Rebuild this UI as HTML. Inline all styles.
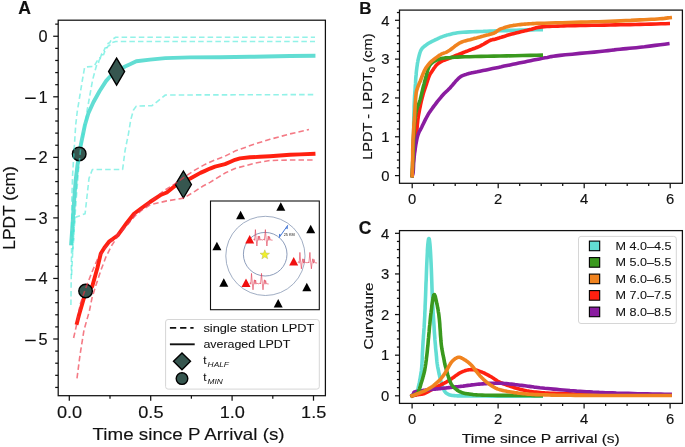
<!DOCTYPE html>
<html><head><meta charset="utf-8"><style>
html,body{margin:0;padding:0;background:#fff;}
svg{display:block;font-family:"Liberation Sans", sans-serif;-webkit-font-smoothing:antialiased;will-change:transform;}
text{fill:#111;stroke:#111;stroke-width:0.15px;}
</style></head><body>
<svg width="685" height="447" viewBox="0 0 685 447">
<rect width="685" height="447" fill="#fff"/>
<clipPath id="clipA"><rect x="58.2" y="20.2" width="267.2" height="375.5"/></clipPath>
<clipPath id="clipB"><rect x="399.9" y="10.2" width="282.4" height="173.1"/></clipPath>
<clipPath id="clipC"><rect x="399.5" y="231.1" width="282.9" height="172.3"/></clipPath>
<g clip-path="url(#clipA)">
<polyline points="71.2,243.5 72.5,225.0 73.8,205.0 75.7,180.0 77.5,165.0 79.2,153.9 80.8,145.0 83.9,130.0 85.0,124.7 88.3,113.5 93.4,102.3 99.5,91.2 106.0,81.1 109.4,77.3 117.0,71.0 125.1,66.5 130.0,64.3 136.3,61.3 150.0,59.6 165.4,58.1 190.0,57.4 220.0,57.2 250.0,56.8 290.0,56.0 313.5,55.8" fill="none" stroke="#62DDD3" stroke-width="3.9" stroke-linecap="square" stroke-linejoin="round"/>
<polyline points="77.0,322.9 79.0,315.0 85.7,292.0 92.2,286.5 97.5,267.5 100.8,253.5 104.4,247.8 109.4,241.3 113.0,238.8 117.9,235.2 126.9,222.7 134.0,213.7 141.0,208.5 150.0,202.0 161.2,194.7 166.8,192.5 175.8,185.2 190.3,178.5 200.4,172.9 205.0,170.9 210.0,168.6 215.0,166.6 220.0,165.4 225.0,164.1 230.0,162.0 235.0,159.8 240.0,158.4 250.0,157.3 260.0,156.8 270.0,156.2 290.0,154.8 300.0,154.4 313.5,153.8" fill="none" stroke="#FF2010" stroke-width="3.9" stroke-linecap="square" stroke-linejoin="round"/>
</g>
<polygon points="116.6,58.099999999999994 124.6,71.6 116.6,85.1 108.6,71.6" fill="#36564F" stroke="#000" stroke-width="1.4"/>
<polygon points="183.4,171.0 191.4,184.5 183.4,198.0 175.4,184.5" fill="#36564F" stroke="#000" stroke-width="1.4"/>
<circle cx="79.2" cy="153.9" r="6.8" fill="#36564F" stroke="#000" stroke-width="1.4"/>
<circle cx="85.6" cy="291.0" r="6.8" fill="#36564F" stroke="#000" stroke-width="1.4"/>
<g clip-path="url(#clipA)">
<polyline points="70.9,305.0 71.2,280.0 71.6,245.0 71.8,200.0 72.6,175.0 74.1,150.0 75.7,125.0 77.2,112.0 82.4,80.0 84.6,67.4 86.7,66.9 94.2,66.3 95.3,64.2 97.5,60.4 99.1,57.8 100.5,57.4 101.8,53.5 103.2,52.9 105.0,48.1 106.6,47.5 108.2,43.3 109.8,42.7 111.4,39.5 113.0,39.0 115.7,37.3 315.0,37.3" fill="none" stroke="#38E8D6" stroke-width="1.6" stroke-dasharray="5.5,3.1" stroke-opacity="0.55" stroke-linecap="butt" stroke-linejoin="round"/>
<polyline points="71.6,275.0 72.2,262.0 73.0,245.0 76.5,195.0 78.5,170.0 80.5,150.0 83.0,135.0 85.5,122.0 87.2,110.0 92.6,80.0 94.8,71.7 96.9,64.2 98.2,63.8 99.1,60.4 102.3,55.1 103.6,54.6 105.0,50.8 108.2,46.0 109.5,45.6 111.4,42.7 115.7,41.5 315.0,41.5" fill="none" stroke="#38E8D6" stroke-width="1.6" stroke-dasharray="5.5,3.1" stroke-opacity="0.55" stroke-linecap="butt" stroke-linejoin="round"/>
<polyline points="72.6,252.0 73.6,240.0 74.9,217.6 85.1,213.7 89.0,178.4 92.4,169.5 122.6,169.5 125.1,150.3 128.5,133.6 130.7,120.0 133.5,110.0 136.3,106.1 152.0,105.7 165.4,95.0 315.0,94.6" fill="none" stroke="#38E8D6" stroke-width="1.6" stroke-dasharray="5.5,3.1" stroke-opacity="0.55" stroke-linecap="butt" stroke-linejoin="round"/>
<polyline points="73.6,338.0 77.0,323.0 80.0,305.0 85.0,290.0 92.0,272.0 98.0,258.0 105.0,248.0 112.0,240.0 120.0,232.0 128.0,224.0 135.0,214.0 150.0,202.5 162.7,191.5 174.6,184.1 184.7,176.8 194.8,170.1 205.0,164.4 215.0,160.0 225.0,156.2 235.0,151.1 255.0,143.9 270.0,139.3 290.0,133.9 296.0,132.6 309.0,129.5" fill="none" stroke="#EE3344" stroke-width="1.6" stroke-dasharray="5.5,3.1" stroke-opacity="0.65" stroke-linecap="butt" stroke-linejoin="round"/>
<polyline points="77.0,378.4 80.0,355.0 84.0,330.0 89.4,311.0 92.0,298.0 96.0,285.0 101.0,270.0 106.0,256.8 112.0,245.0 118.0,236.0 127.0,225.0 135.0,216.0 142.0,210.0 150.2,204.8 166.8,200.9 183.6,198.1 194.8,191.4 202.6,186.3 210.0,182.4 225.0,173.1 235.0,168.5 255.0,163.1 270.0,160.5 290.0,160.0 314.0,160.0" fill="none" stroke="#EE3344" stroke-width="1.6" stroke-dasharray="5.5,3.1" stroke-opacity="0.65" stroke-linecap="butt" stroke-linejoin="round"/>
</g>
<rect x="58.2" y="20.2" width="267.2" height="375.5" fill="none" stroke="#111" stroke-width="1.25"/>
<line x1="53.20" y1="36.25" x2="58.20" y2="36.25" stroke="#111" stroke-width="1.25"/>
<text x="47.60" y="42.15" font-size="16.3" text-anchor="end" font-weight="normal" font-style="normal">0</text>
<line x1="53.20" y1="96.80" x2="58.20" y2="96.80" stroke="#111" stroke-width="1.25"/>
<text x="47.60" y="102.70" font-size="16.3" text-anchor="end" font-weight="normal" font-style="normal">1</text>
<rect x="25.2" y="97.50" width="10.5" height="1.5" fill="#111"/>
<line x1="53.20" y1="157.35" x2="58.20" y2="157.35" stroke="#111" stroke-width="1.25"/>
<text x="47.60" y="163.25" font-size="16.3" text-anchor="end" font-weight="normal" font-style="normal">2</text>
<rect x="25.2" y="158.05" width="10.5" height="1.5" fill="#111"/>
<line x1="53.20" y1="217.90" x2="58.20" y2="217.90" stroke="#111" stroke-width="1.25"/>
<text x="47.60" y="223.80" font-size="16.3" text-anchor="end" font-weight="normal" font-style="normal">3</text>
<rect x="25.2" y="218.60" width="10.5" height="1.5" fill="#111"/>
<line x1="53.20" y1="278.45" x2="58.20" y2="278.45" stroke="#111" stroke-width="1.25"/>
<text x="47.60" y="284.35" font-size="16.3" text-anchor="end" font-weight="normal" font-style="normal">4</text>
<rect x="25.2" y="279.15" width="10.5" height="1.5" fill="#111"/>
<line x1="53.20" y1="339.00" x2="58.20" y2="339.00" stroke="#111" stroke-width="1.25"/>
<text x="47.60" y="344.90" font-size="16.3" text-anchor="end" font-weight="normal" font-style="normal">5</text>
<rect x="25.2" y="339.70" width="10.5" height="1.5" fill="#111"/>
<line x1="55.20" y1="387.44" x2="58.20" y2="387.44" stroke="#111" stroke-width="1.25"/>
<line x1="55.20" y1="375.33" x2="58.20" y2="375.33" stroke="#111" stroke-width="1.25"/>
<line x1="55.20" y1="363.22" x2="58.20" y2="363.22" stroke="#111" stroke-width="1.25"/>
<line x1="55.20" y1="351.11" x2="58.20" y2="351.11" stroke="#111" stroke-width="1.25"/>
<line x1="55.20" y1="326.89" x2="58.20" y2="326.89" stroke="#111" stroke-width="1.25"/>
<line x1="55.20" y1="314.78" x2="58.20" y2="314.78" stroke="#111" stroke-width="1.25"/>
<line x1="55.20" y1="302.67" x2="58.20" y2="302.67" stroke="#111" stroke-width="1.25"/>
<line x1="55.20" y1="290.56" x2="58.20" y2="290.56" stroke="#111" stroke-width="1.25"/>
<line x1="55.20" y1="266.34" x2="58.20" y2="266.34" stroke="#111" stroke-width="1.25"/>
<line x1="55.20" y1="254.23" x2="58.20" y2="254.23" stroke="#111" stroke-width="1.25"/>
<line x1="55.20" y1="242.12" x2="58.20" y2="242.12" stroke="#111" stroke-width="1.25"/>
<line x1="55.20" y1="230.01" x2="58.20" y2="230.01" stroke="#111" stroke-width="1.25"/>
<line x1="55.20" y1="205.79" x2="58.20" y2="205.79" stroke="#111" stroke-width="1.25"/>
<line x1="55.20" y1="193.68" x2="58.20" y2="193.68" stroke="#111" stroke-width="1.25"/>
<line x1="55.20" y1="181.57" x2="58.20" y2="181.57" stroke="#111" stroke-width="1.25"/>
<line x1="55.20" y1="169.46" x2="58.20" y2="169.46" stroke="#111" stroke-width="1.25"/>
<line x1="55.20" y1="145.24" x2="58.20" y2="145.24" stroke="#111" stroke-width="1.25"/>
<line x1="55.20" y1="133.13" x2="58.20" y2="133.13" stroke="#111" stroke-width="1.25"/>
<line x1="55.20" y1="121.02" x2="58.20" y2="121.02" stroke="#111" stroke-width="1.25"/>
<line x1="55.20" y1="108.91" x2="58.20" y2="108.91" stroke="#111" stroke-width="1.25"/>
<line x1="55.20" y1="84.69" x2="58.20" y2="84.69" stroke="#111" stroke-width="1.25"/>
<line x1="55.20" y1="72.58" x2="58.20" y2="72.58" stroke="#111" stroke-width="1.25"/>
<line x1="55.20" y1="60.47" x2="58.20" y2="60.47" stroke="#111" stroke-width="1.25"/>
<line x1="55.20" y1="48.36" x2="58.20" y2="48.36" stroke="#111" stroke-width="1.25"/>
<line x1="55.20" y1="24.14" x2="58.20" y2="24.14" stroke="#111" stroke-width="1.25"/>
<line x1="69.30" y1="395.70" x2="69.30" y2="400.70" stroke="#111" stroke-width="1.25"/>
<text x="69.50" y="418.20" font-size="16.3" text-anchor="middle" font-weight="normal" font-style="normal" textLength="25.2" lengthAdjust="spacingAndGlyphs">0.0</text>
<line x1="150.70" y1="395.70" x2="150.70" y2="400.70" stroke="#111" stroke-width="1.25"/>
<text x="150.90" y="418.20" font-size="16.3" text-anchor="middle" font-weight="normal" font-style="normal" textLength="25.2" lengthAdjust="spacingAndGlyphs">0.5</text>
<line x1="232.10" y1="395.70" x2="232.10" y2="400.70" stroke="#111" stroke-width="1.25"/>
<text x="232.30" y="418.20" font-size="16.3" text-anchor="middle" font-weight="normal" font-style="normal" textLength="25.2" lengthAdjust="spacingAndGlyphs">1.0</text>
<line x1="313.50" y1="395.70" x2="313.50" y2="400.70" stroke="#111" stroke-width="1.25"/>
<text x="313.70" y="418.20" font-size="16.3" text-anchor="middle" font-weight="normal" font-style="normal" textLength="25.2" lengthAdjust="spacingAndGlyphs">1.5</text>
<line x1="110.00" y1="395.70" x2="110.00" y2="398.70" stroke="#111" stroke-width="1.25"/>
<line x1="191.40" y1="395.70" x2="191.40" y2="398.70" stroke="#111" stroke-width="1.25"/>
<line x1="272.80" y1="395.70" x2="272.80" y2="398.70" stroke="#111" stroke-width="1.25"/>
<text x="18.30" y="14.20" font-size="17.6" text-anchor="start" font-weight="bold" font-style="normal">A</text>
<text transform="translate(14.6,249.7) rotate(-90)" font-size="16.5" textLength="83.5" lengthAdjust="spacingAndGlyphs">LPDT (cm)</text>
<text x="92.60" y="440.20" font-size="16.5" text-anchor="start" font-weight="normal" font-style="normal" textLength="192" lengthAdjust="spacingAndGlyphs">Time since P Arrival (s)</text>
<rect x="165.6" y="319.5" width="153.7" height="69.6" rx="2.5" fill="#fff" fill-opacity="0.8" stroke="#d6d6d6" stroke-width="1"/>
<line x1="169.9" y1="327.9" x2="193.6" y2="327.9" stroke="#111" stroke-width="1.9" stroke-dasharray="6.3,3.9"/>
<line x1="169.90" y1="344.30" x2="194.70" y2="344.30" stroke="#111" stroke-width="1.9"/>
<text x="203.40" y="332.00" font-size="11.6" text-anchor="start" font-weight="normal" font-style="normal" textLength="111" lengthAdjust="spacingAndGlyphs" style="stroke-width:0.08px">single station LPDT</text>
<text x="203.40" y="348.40" font-size="11.6" text-anchor="start" font-weight="normal" font-style="normal" textLength="87" lengthAdjust="spacingAndGlyphs" style="stroke-width:0.08px">averaged LPDT</text>
<polygon points="182,352.9 190.5,361.3 182,369.7 173.5,361.3" fill="#36564F" stroke="#000" stroke-width="1.4"/>
<circle cx="182" cy="378.6" r="5.8" fill="#36564F" stroke="#000" stroke-width="1.4"/>
<text x="203.30" y="364.40" font-size="11.6" text-anchor="start" font-weight="normal" font-style="normal" style="stroke-width:0.08px">t</text>
<text x="207.60" y="366.60" font-size="7.8" text-anchor="start" font-weight="normal" font-style="italic" textLength="21.4" lengthAdjust="spacingAndGlyphs" style="stroke:none">HALF</text>
<text x="203.30" y="381.30" font-size="11.6" text-anchor="start" font-weight="normal" font-style="normal" style="stroke-width:0.08px">t</text>
<text x="207.60" y="383.60" font-size="7.8" text-anchor="start" font-weight="normal" font-style="italic" textLength="15.2" lengthAdjust="spacingAndGlyphs" style="stroke:none">MIN</text>
<rect x="210.5" y="201" width="108.8" height="108.7" fill="#fff" stroke="#111" stroke-width="1.1"/>
<circle cx="265.4" cy="255.9" r="39.6" fill="none" stroke="#8898b4" stroke-width="0.8"/>
<circle cx="265.2" cy="254.2" r="21.8" fill="none" stroke="#7084aa" stroke-width="0.8"/>
<polygon points="240.6,210.85 245.1,219.35 236.1,219.35" fill="#000"/>
<polygon points="280.8,202.15 285.3,210.65 276.3,210.65" fill="#000"/>
<polygon points="310.7,224.65 315.2,233.15 306.2,233.15" fill="#000"/>
<polygon points="216.9,241.65 221.4,250.15 212.4,250.15" fill="#000"/>
<polygon points="223.8,278.15 228.3,286.65 219.3,286.65" fill="#000"/>
<polygon points="306.8,282.75 311.3,291.25 302.3,291.25" fill="#000"/>
<polygon points="278.2,298.95 282.7,307.45 273.7,307.45" fill="#000"/>
<polygon points="249.7,235.10000000000002 254.2,243.5 245.2,243.5" fill="#F01010"/>
<polygon points="293.7,257.1 298.2,265.5 289.2,265.5" fill="#F01010"/>
<polygon points="246.0,278.6 250.5,287.0 241.5,287.0" fill="#F01010"/>
<polyline points="253.4,239.6 254.2,238.8 254.7,240.4 255.4,229.6 256.2,239.6 256.9,246.0 257.6,239.6 258.3,236.0 258.9,240.4 259.5,236.2 260.2,240.0 261.0,239.6 262.7,240.0 263.8,239.2 264.4,240.2 265.4,229.6 266.2,239.6 266.9,246.0 267.6,239.6 268.3,236.0 268.9,240.4 269.5,236.6 270.2,239.9 272.6,240.2" fill="none" stroke="#E03850" stroke-width="0.75" stroke-opacity="0.8" stroke-linecap="butt" stroke-linejoin="miter"/>
<polyline points="297.9,262.4 298.7,261.6 299.2,263.2 299.9,252.4 300.7,262.4 301.4,268.8 302.1,262.4 302.8,258.8 303.4,263.2 304.0,259.0 304.7,262.8 305.5,262.4 307.2,262.8 308.3,262.0 308.9,263.0 309.9,252.4 310.7,262.4 311.4,268.8 312.1,262.4 312.8,258.8 313.4,263.2 314.0,259.4 314.7,262.7 317.1,263.0" fill="none" stroke="#E03850" stroke-width="0.75" stroke-opacity="0.8" stroke-linecap="butt" stroke-linejoin="miter"/>
<polyline points="249.5,283.4 250.3,282.6 250.8,284.2 251.5,273.4 252.3,283.4 253.0,289.8 253.7,283.4 254.4,279.8 255.0,284.2 255.6,280.0 256.3,283.8 257.1,283.4 258.8,283.8 259.9,283.0 260.5,284.0 261.5,273.4 262.3,283.4 263.0,289.8 263.7,283.4 264.4,279.8 265.0,284.2 265.6,280.4 266.3,283.7 268.7,284.0" fill="none" stroke="#E03850" stroke-width="0.75" stroke-opacity="0.8" stroke-linecap="butt" stroke-linejoin="miter"/>
<polygon points="264.80,249.80 266.03,253.10 269.56,253.25 266.80,255.45 267.74,258.85 264.80,256.90 261.86,258.85 262.80,255.45 260.04,253.25 263.57,253.10" fill="#F0F028" stroke="#B8B860" stroke-width="0.5"/>
<line x1="279" y1="237.8" x2="287.8" y2="225.2" stroke="#3068D0" stroke-width="0.9"/>
<polygon points="287.8,225.2 286.0,228.3 287.6,229.2" fill="#3068D0"/>
<polygon points="279,237.8 280.8,234.7 279.2,233.8" fill="#3068D0"/>
<text x="283.7" y="235.9" font-size="4.4" fill="#333" style="stroke:none" textLength="11.0" lengthAdjust="spacingAndGlyphs">25 KM</text>
<g clip-path="url(#clipB)">
<polyline points="412.2,175.6 412.3,174.0 412.4,171.7 412.5,169.0 412.6,166.1 412.7,163.0 412.8,160.0 412.9,157.0 413.0,153.8 413.1,150.6 413.2,147.2 413.3,143.7 413.4,140.0 413.5,136.0 413.6,131.7 413.7,127.2 413.7,122.8 413.8,118.6 413.9,115.0 414.0,111.9 414.1,109.1 414.1,106.7 414.2,104.4 414.3,102.2 414.4,100.0 414.5,97.8 414.6,95.8 414.8,93.8 414.9,91.9 415.1,90.0 415.2,88.0 415.3,86.0 415.5,83.9 415.6,81.9 415.7,79.9 415.8,77.9 416.0,76.0 416.2,74.2 416.3,72.4 416.5,70.6 416.7,69.0 416.9,67.4 417.1,66.0 417.3,64.8 417.4,63.7 417.6,62.7 417.8,61.8 417.9,60.9 418.1,60.0 418.3,59.1 418.5,58.2 418.7,57.4 418.9,56.6 419.1,55.8 419.3,55.0 419.5,54.3 419.7,53.6 419.9,52.9 420.1,52.3 420.3,51.6 420.6,51.0 420.9,50.4 421.2,49.8 421.6,49.2 422.0,48.6 422.5,48.1 423.0,47.5 423.6,46.9 424.4,46.3 425.2,45.7 426.0,45.1 426.8,44.5 427.5,44.0 428.1,43.6 428.7,43.2 429.2,42.9 429.8,42.6 430.3,42.3 431.0,42.0 431.7,41.6 432.5,41.2 433.3,40.8 434.2,40.4 435.1,39.9 436.0,39.5 436.9,39.1 437.9,38.6 438.9,38.1 439.9,37.7 441.0,37.2 442.0,36.8 443.0,36.4 443.9,36.1 444.8,35.8 445.8,35.5 446.9,35.1 448.3,34.8 449.8,34.4 451.5,34.0 453.3,33.6 455.3,33.2 457.5,32.8 460.0,32.5 462.9,32.3 466.1,32.1 469.5,31.9 473.0,31.8 476.6,31.6 480.0,31.5 483.3,31.4 486.7,31.2 490.0,31.1 493.3,31.0 496.7,30.9 500.0,30.8 503.3,30.7 506.6,30.6 509.9,30.4 513.2,30.3 516.6,30.2 520.0,30.1 523.7,30.0 527.8,29.9 531.9,29.9 535.7,29.8 538.9,29.7 541.2,29.7" fill="none" stroke="#62DDD3" stroke-width="3.6" stroke-linecap="square" stroke-linejoin="round"/>
<polyline points="412.2,175.6 412.3,173.9 412.5,171.5 412.7,168.7 413.0,165.7 413.2,162.7 413.5,160.0 413.8,157.4 414.1,154.8 414.3,152.2 414.6,149.6 414.9,147.2 415.2,145.0 415.4,143.1 415.7,141.5 415.9,140.0 416.1,138.5 416.3,136.9 416.5,135.0 416.7,132.7 416.9,130.2 417.1,127.5 417.3,124.8 417.6,122.3 417.8,120.0 418.1,118.0 418.3,116.3 418.6,114.7 418.9,113.1 419.2,111.6 419.5,110.0 419.8,108.3 420.2,106.6 420.5,104.9 420.9,103.2 421.2,101.6 421.6,100.0 422.0,98.6 422.3,97.2 422.7,95.9 423.0,94.6 423.4,93.3 423.8,92.0 424.2,90.7 424.7,89.3 425.1,88.0 425.6,86.7 426.0,85.3 426.5,84.0 426.9,82.6 427.4,81.2 427.8,79.8 428.3,78.5 428.7,77.2 429.2,76.0 429.7,74.9 430.2,74.0 430.7,73.1 431.3,72.3 431.9,71.4 432.5,70.5 433.2,69.5 433.8,68.5 434.6,67.5 435.3,66.5 436.0,65.6 436.8,64.8 437.5,64.1 438.3,63.5 439.0,62.9 439.8,62.4 440.6,61.9 441.5,61.4 442.4,60.9 443.3,60.6 444.3,60.2 445.4,59.8 446.6,59.4 448.0,58.8 449.7,58.1 451.7,57.3 453.8,56.4 455.9,55.5 458.1,54.7 460.0,53.9 461.8,53.2 463.5,52.5 465.1,51.9 466.7,51.3 468.4,50.6 470.0,50.0 471.7,49.4 473.3,48.8 475.0,48.2 476.7,47.5 478.3,46.8 480.0,46.1 481.7,45.2 483.5,44.2 485.3,43.1 487.0,42.1 488.6,41.2 490.0,40.5 491.1,40.0 492.0,39.8 492.8,39.6 493.5,39.5 494.2,39.4 495.0,39.2 495.8,39.0 496.5,38.7 497.2,38.5 498.0,38.2 498.9,38.0 500.0,37.6 501.4,37.2 503.0,36.7 504.7,36.2 506.5,35.6 508.3,35.1 510.0,34.6 511.7,34.1 513.3,33.7 515.0,33.3 516.7,32.8 518.3,32.4 520.0,32.0 521.7,31.6 523.3,31.2 525.0,30.8 526.7,30.4 528.3,30.0 530.0,29.6 531.6,29.2 533.1,28.7 534.7,28.3 536.3,27.8 538.0,27.4 540.0,27.1 542.2,26.9 544.4,26.7 546.9,26.5 549.4,26.4 552.2,26.3 555.0,26.2 557.9,26.1 560.7,26.0 563.8,25.9 567.0,25.8 570.7,25.7 575.0,25.6 580.0,25.5 585.7,25.4 591.9,25.3 598.1,25.2 604.3,25.1 610.0,25.0 615.3,24.9 620.4,24.8 625.4,24.7 630.3,24.6 635.2,24.5 640.0,24.4 645.1,24.3 650.6,24.1 656.0,24.0 661.0,23.8 665.2,23.7 668.2,23.6" fill="none" stroke="#FF2010" stroke-width="3.6" stroke-linecap="square" stroke-linejoin="round"/>
<polyline points="412.2,175.6 412.3,175.3 412.5,175.0 412.7,174.7 412.8,174.1 413.0,173.2 413.2,172.0 413.3,170.3 413.4,168.3 413.5,165.9 413.6,163.4 413.8,160.8 414.0,158.3 414.3,155.7 414.6,153.0 415.0,150.2 415.4,147.4 415.8,144.8 416.2,142.6 416.6,140.7 416.9,139.0 417.2,137.6 417.6,136.3 418.0,135.0 418.4,133.7 418.9,132.5 419.4,131.5 419.9,130.5 420.5,129.5 421.1,128.4 421.8,127.0 422.6,125.3 423.5,123.4 424.5,121.4 425.5,119.4 426.5,117.5 427.4,115.8 428.2,114.4 428.9,113.2 429.6,112.1 430.4,111.1 431.1,110.0 432.0,108.8 433.0,107.4 434.1,105.9 435.3,104.4 436.4,102.9 437.5,101.4 438.6,100.1 439.6,98.9 440.5,97.8 441.3,96.8 442.2,95.8 443.1,94.8 444.0,93.8 445.0,92.8 445.9,91.9 446.9,91.0 447.9,90.1 448.9,89.1 450.0,88.0 451.1,86.7 452.3,85.3 453.6,83.8 454.8,82.4 455.9,81.0 457.0,79.9 457.9,79.0 458.7,78.2 459.4,77.6 460.2,77.0 461.0,76.4 462.0,75.9 463.2,75.4 464.6,74.8 466.0,74.4 467.4,73.9 468.8,73.5 470.0,73.2 470.9,73.0 471.4,72.8 471.9,72.8 472.5,72.7 473.5,72.5 475.0,72.2 477.2,71.8 479.9,71.2 483.0,70.6 486.3,69.9 489.5,69.2 492.6,68.6 495.5,68.0 498.4,67.4 501.3,66.8 504.2,66.1 507.1,65.5 510.0,64.9 512.9,64.3 515.9,63.7 518.8,63.1 521.7,62.5 524.7,61.9 527.6,61.3 530.6,60.7 533.5,60.1 536.5,59.5 539.5,58.9 542.3,58.3 545.1,57.8 547.4,57.4 549.3,57.0 551.1,56.6 553.3,56.3 556.1,55.9 560.0,55.4 565.4,54.8 572.2,54.2 579.7,53.4 587.2,52.7 594.2,52.1 600.0,51.5 604.5,51.0 608.1,50.6 611.2,50.2 614.1,49.9 616.9,49.5 620.0,49.2 623.2,48.9 626.4,48.6 629.5,48.3 632.8,48.0 636.2,47.7 640.0,47.3 644.5,46.8 649.7,46.1 655.1,45.4 660.3,44.8 664.7,44.2 667.8,43.8" fill="none" stroke="#8A1CA0" stroke-width="3.6" stroke-linecap="square" stroke-linejoin="round"/>
<polyline points="412.2,175.6 412.2,174.5 412.3,173.0 412.4,171.2 412.4,169.3 412.5,167.1 412.6,165.0 412.7,162.8 412.8,160.5 412.9,158.1 413.0,155.5 413.1,152.8 413.2,150.0 413.3,146.9 413.4,143.5 413.5,140.0 413.7,136.5 413.8,133.1 414.0,130.0 414.2,127.1 414.4,124.4 414.7,121.8 414.9,119.3 415.2,117.0 415.5,115.0 415.8,113.2 416.1,111.8 416.4,110.5 416.8,109.3 417.1,108.2 417.5,107.0 417.9,105.8 418.3,104.8 418.7,103.8 419.2,102.7 419.6,101.4 420.1,100.0 420.6,98.3 421.0,96.4 421.5,94.3 422.0,92.2 422.5,90.1 423.0,88.0 423.5,86.0 424.1,83.9 424.6,81.8 425.2,79.7 425.7,77.8 426.2,76.0 426.6,74.3 427.1,72.7 427.4,71.2 427.8,69.8 428.2,68.6 428.7,67.4 429.2,66.4 429.7,65.5 430.3,64.7 430.8,64.0 431.4,63.4 432.1,62.8 432.8,62.2 433.6,61.7 434.4,61.3 435.2,60.8 436.0,60.5 436.8,60.1 437.6,59.8 438.3,59.5 439.0,59.2 439.8,58.9 440.6,58.7 441.5,58.5 442.4,58.3 443.1,58.2 444.0,58.1 445.0,57.9 446.3,57.8 448.0,57.7 450.0,57.6 452.2,57.4 454.7,57.3 457.6,57.1 461.0,56.9 465.0,56.8 469.7,56.7 475.1,56.5 481.0,56.4 487.2,56.3 493.6,56.1 500.0,56.0 507.0,55.9 514.8,55.7 522.8,55.5 530.3,55.4 536.6,55.3 541.2,55.2" fill="none" stroke="#3A991E" stroke-width="3.6" stroke-linecap="square" stroke-linejoin="round"/>
<polyline points="412.2,175.6 412.2,174.0 412.3,171.7 412.4,169.0 412.5,166.1 412.5,163.0 412.6,160.0 412.7,156.9 412.7,153.7 412.7,150.3 412.8,146.8 412.9,143.4 413.0,140.0 413.2,136.7 413.4,133.5 413.6,130.3 413.8,127.0 414.0,123.6 414.3,120.0 414.6,115.9 414.8,111.4 415.1,106.7 415.4,102.2 415.7,98.2 416.0,95.0 416.2,92.8 416.5,91.4 416.7,90.4 416.9,89.7 417.2,89.0 417.5,88.0 417.9,86.7 418.4,85.5 418.9,84.2 419.5,82.8 420.1,81.5 420.7,80.0 421.3,78.4 421.9,76.7 422.6,75.0 423.3,73.2 424.0,71.6 424.7,70.1 425.4,68.8 426.2,67.6 427.0,66.4 427.8,65.4 428.6,64.4 429.4,63.4 430.2,62.5 431.1,61.7 432.0,60.9 432.9,60.2 433.8,59.5 434.8,58.7 435.8,57.9 436.9,57.1 438.1,56.2 439.2,55.4 440.4,54.7 441.5,54.0 442.5,53.5 443.5,53.2 444.4,52.9 445.4,52.6 446.6,52.1 448.0,51.3 449.7,50.2 451.7,48.7 453.8,47.1 455.9,45.4 458.1,44.0 460.0,42.8 461.8,42.0 463.5,41.4 465.1,40.9 466.7,40.5 468.4,40.1 470.0,39.7 471.7,39.2 473.3,38.8 475.0,38.3 476.7,37.9 478.3,37.4 480.0,37.0 481.7,36.5 483.5,36.1 485.3,35.6 487.0,35.1 488.6,34.7 490.0,34.3 491.1,34.0 492.0,33.7 492.8,33.5 493.5,33.3 494.2,33.0 495.0,32.6 495.8,32.1 496.5,31.6 497.2,31.0 498.0,30.4 498.9,29.8 500.0,29.2 501.4,28.6 503.0,28.1 504.7,27.5 506.5,26.9 508.3,26.4 510.0,26.0 511.7,25.7 513.3,25.4 515.0,25.2 516.7,25.0 518.3,24.8 520.0,24.6 521.7,24.4 523.3,24.3 525.0,24.1 526.7,24.0 528.3,23.9 530.0,23.8 531.4,23.7 532.4,23.6 533.4,23.6 534.8,23.5 536.9,23.4 540.0,23.3 544.4,23.2 549.8,23.0 555.9,22.8 562.4,22.7 568.9,22.5 575.0,22.3 580.9,22.1 586.9,22.0 592.8,21.8 598.7,21.7 604.5,21.5 610.0,21.3 615.4,21.1 620.7,20.9 625.9,20.6 630.9,20.4 635.6,20.1 640.0,19.9 644.0,19.7 647.8,19.5 651.2,19.3 654.4,19.2 657.3,19.0 660.0,18.8 662.4,18.6 664.5,18.4 666.4,18.1 667.9,17.9 669.2,17.7 670.2,17.6" fill="none" stroke="#F0831F" stroke-width="3.6" stroke-linecap="square" stroke-linejoin="round"/>
</g>
<rect x="399.5" y="10.1" width="282.9" height="173.20000000000002" fill="none" stroke="#111" stroke-width="1.25"/>
<line x1="395.00" y1="175.60" x2="399.50" y2="175.60" stroke="#111" stroke-width="1.25"/>
<text x="389.40" y="180.90" font-size="14.8" text-anchor="end" font-weight="normal" font-style="normal">0</text>
<line x1="395.00" y1="136.77" x2="399.50" y2="136.77" stroke="#111" stroke-width="1.25"/>
<text x="389.40" y="142.07" font-size="14.8" text-anchor="end" font-weight="normal" font-style="normal">1</text>
<line x1="395.00" y1="97.95" x2="399.50" y2="97.95" stroke="#111" stroke-width="1.25"/>
<text x="389.40" y="103.25" font-size="14.8" text-anchor="end" font-weight="normal" font-style="normal">2</text>
<line x1="395.00" y1="59.12" x2="399.50" y2="59.12" stroke="#111" stroke-width="1.25"/>
<text x="389.40" y="64.42" font-size="14.8" text-anchor="end" font-weight="normal" font-style="normal">3</text>
<line x1="395.00" y1="20.30" x2="399.50" y2="20.30" stroke="#111" stroke-width="1.25"/>
<text x="389.40" y="25.60" font-size="14.8" text-anchor="end" font-weight="normal" font-style="normal">4</text>
<line x1="396.90" y1="167.83" x2="399.50" y2="167.83" stroke="#111" stroke-width="1.25"/>
<line x1="396.90" y1="160.07" x2="399.50" y2="160.07" stroke="#111" stroke-width="1.25"/>
<line x1="396.90" y1="152.30" x2="399.50" y2="152.30" stroke="#111" stroke-width="1.25"/>
<line x1="396.90" y1="144.54" x2="399.50" y2="144.54" stroke="#111" stroke-width="1.25"/>
<line x1="396.90" y1="129.01" x2="399.50" y2="129.01" stroke="#111" stroke-width="1.25"/>
<line x1="396.90" y1="121.24" x2="399.50" y2="121.24" stroke="#111" stroke-width="1.25"/>
<line x1="396.90" y1="113.48" x2="399.50" y2="113.48" stroke="#111" stroke-width="1.25"/>
<line x1="396.90" y1="105.71" x2="399.50" y2="105.71" stroke="#111" stroke-width="1.25"/>
<line x1="396.90" y1="90.18" x2="399.50" y2="90.18" stroke="#111" stroke-width="1.25"/>
<line x1="396.90" y1="82.42" x2="399.50" y2="82.42" stroke="#111" stroke-width="1.25"/>
<line x1="396.90" y1="74.65" x2="399.50" y2="74.65" stroke="#111" stroke-width="1.25"/>
<line x1="396.90" y1="66.89" x2="399.50" y2="66.89" stroke="#111" stroke-width="1.25"/>
<line x1="396.90" y1="51.36" x2="399.50" y2="51.36" stroke="#111" stroke-width="1.25"/>
<line x1="396.90" y1="43.59" x2="399.50" y2="43.59" stroke="#111" stroke-width="1.25"/>
<line x1="396.90" y1="35.83" x2="399.50" y2="35.83" stroke="#111" stroke-width="1.25"/>
<line x1="396.90" y1="28.06" x2="399.50" y2="28.06" stroke="#111" stroke-width="1.25"/>
<line x1="396.90" y1="12.53" x2="399.50" y2="12.53" stroke="#111" stroke-width="1.25"/>
<line x1="412.20" y1="183.30" x2="412.20" y2="188.30" stroke="#111" stroke-width="1.25"/>
<text x="412.20" y="204.00" font-size="14.8" text-anchor="middle" font-weight="normal" font-style="normal">0</text>
<line x1="498.20" y1="183.30" x2="498.20" y2="188.30" stroke="#111" stroke-width="1.25"/>
<text x="498.20" y="204.00" font-size="14.8" text-anchor="middle" font-weight="normal" font-style="normal">2</text>
<line x1="584.20" y1="183.30" x2="584.20" y2="188.30" stroke="#111" stroke-width="1.25"/>
<text x="584.20" y="204.00" font-size="14.8" text-anchor="middle" font-weight="normal" font-style="normal">4</text>
<line x1="670.20" y1="183.30" x2="670.20" y2="188.30" stroke="#111" stroke-width="1.25"/>
<text x="670.20" y="204.00" font-size="14.8" text-anchor="middle" font-weight="normal" font-style="normal">6</text>
<line x1="433.70" y1="183.30" x2="433.70" y2="185.90" stroke="#111" stroke-width="1.25"/>
<line x1="455.20" y1="183.30" x2="455.20" y2="185.90" stroke="#111" stroke-width="1.25"/>
<line x1="476.70" y1="183.30" x2="476.70" y2="185.90" stroke="#111" stroke-width="1.25"/>
<line x1="519.70" y1="183.30" x2="519.70" y2="185.90" stroke="#111" stroke-width="1.25"/>
<line x1="541.20" y1="183.30" x2="541.20" y2="185.90" stroke="#111" stroke-width="1.25"/>
<line x1="562.70" y1="183.30" x2="562.70" y2="185.90" stroke="#111" stroke-width="1.25"/>
<line x1="605.70" y1="183.30" x2="605.70" y2="185.90" stroke="#111" stroke-width="1.25"/>
<line x1="627.20" y1="183.30" x2="627.20" y2="185.90" stroke="#111" stroke-width="1.25"/>
<line x1="648.70" y1="183.30" x2="648.70" y2="185.90" stroke="#111" stroke-width="1.25"/>
<text x="359.20" y="14.00" font-size="17.0" text-anchor="start" font-weight="bold" font-style="normal">B</text>
<text transform="translate(371.9,159.8) rotate(-90)" font-size="13.6" textLength="126.4" lengthAdjust="spacingAndGlyphs">LPDT - LPDT<tspan font-size="9.5" dy="3">0</tspan><tspan dy="-3"> (cm)</tspan></text>
<g clip-path="url(#clipC)">
<polyline points="412.1,395.8 412.3,395.7 412.5,395.5 412.8,395.4 413.2,395.2 413.5,395.0 413.9,394.8 414.3,394.5 414.7,394.3 415.0,394.0 415.4,393.7 415.7,393.4 416.0,393.0 416.3,392.6 416.5,392.2 416.7,391.8 416.9,391.3 417.1,390.9 417.3,390.4 417.5,389.8 417.7,389.3 417.9,388.7 418.0,388.1 418.2,387.5 418.4,386.8 418.6,386.1 418.8,385.3 418.9,384.6 419.1,383.7 419.3,382.9 419.5,382.0 419.6,381.1 419.8,380.3 420.0,379.4 420.1,378.5 420.3,377.6 420.4,376.7 420.5,375.9 420.7,375.1 420.8,374.3 420.9,373.6 421.0,372.8 421.2,372.1 421.3,371.2 421.4,370.4 421.5,369.4 421.6,368.4 421.7,367.3 421.8,366.0 421.9,364.6 422.0,363.1 422.1,361.4 422.2,359.7 422.3,357.9 422.3,356.0 422.4,354.1 422.5,352.2 422.6,350.3 422.7,348.3 422.8,346.4 422.9,344.6 423.0,342.8 423.1,340.9 423.3,339.1 423.4,337.2 423.5,335.4 423.7,333.5 423.8,331.6 423.9,329.8 424.1,327.9 424.2,326.0 424.3,324.2 424.4,322.3 424.5,320.5 424.6,318.7 424.7,317.0 424.8,315.3 424.8,313.6 424.9,311.9 425.0,310.1 425.1,308.3 425.1,306.4 425.2,304.4 425.3,302.3 425.4,300.0 425.5,297.5 425.6,294.9 425.7,292.0 425.8,289.1 425.9,286.0 426.0,282.9 426.2,279.8 426.3,276.8 426.4,273.9 426.5,271.0 426.6,268.4 426.7,266.0 426.8,263.7 426.9,261.6 427.0,259.5 427.1,257.5 427.2,255.6 427.3,253.8 427.4,252.1 427.4,250.4 427.5,248.9 427.6,247.5 427.7,246.2 427.8,245.0 427.9,243.9 428.0,242.9 428.1,242.1 428.2,241.3 428.3,240.6 428.4,240.0 428.4,239.6 428.5,239.2 428.6,238.9 428.7,238.7 428.8,238.5 428.9,238.5 429.0,238.5 429.1,238.7 429.2,238.9 429.3,239.2 429.4,239.6 429.4,240.0 429.5,240.6 429.6,241.3 429.7,242.1 429.8,242.9 429.9,243.9 430.0,245.0 430.1,246.2 430.2,247.5 430.3,248.9 430.4,250.4 430.5,252.1 430.6,253.8 430.7,255.6 430.8,257.5 430.9,259.5 431.0,261.6 431.1,263.7 431.2,266.0 431.3,268.4 431.4,270.9 431.5,273.6 431.6,276.3 431.7,279.2 431.8,282.1 431.9,285.1 432.0,288.1 432.1,291.1 432.2,294.1 432.4,297.1 432.5,300.0 432.6,302.9 432.8,305.9 433.0,309.0 433.1,312.0 433.3,315.1 433.5,318.2 433.7,321.2 433.9,324.2 434.1,327.1 434.2,329.8 434.4,332.5 434.6,335.0 434.8,337.4 434.9,339.7 435.1,341.9 435.3,344.0 435.5,346.1 435.6,348.1 435.8,349.9 436.0,351.7 436.2,353.4 436.3,355.1 436.5,356.6 436.6,358.0 436.7,359.3 436.8,360.4 436.9,361.4 437.0,362.2 437.1,363.0 437.2,363.7 437.3,364.3 437.4,365.0 437.5,365.7 437.6,366.4 437.7,367.1 437.9,368.0 438.1,368.9 438.3,369.9 438.5,370.9 438.7,372.0 438.9,373.0 439.1,374.1 439.4,375.1 439.6,376.1 439.8,377.2 440.1,378.2 440.3,379.2 440.6,380.1 440.9,381.0 441.1,382.0 441.4,382.9 441.7,383.8 441.9,384.7 442.2,385.6 442.5,386.5 442.8,387.3 443.1,388.1 443.4,388.8 443.7,389.5 444.0,390.1 444.3,390.7 444.6,391.2 444.9,391.6 445.2,392.0 445.5,392.4 445.8,392.7 446.1,393.0 446.5,393.3 446.8,393.5 447.2,393.7 447.6,394.0 448.0,394.2 448.4,394.4 448.8,394.6 449.2,394.8 449.5,394.9 449.9,395.0 450.4,395.1 450.8,395.2 451.3,395.3 451.9,395.4 452.6,395.5 453.3,395.5 454.2,395.6 455.0,395.7 455.6,395.7 456.2,395.8 456.7,395.8 457.3,395.9 458.0,395.9 459.0,395.9 460.3,395.9 461.9,395.9 464.0,396.0 466.7,396.0 470.0,396.0 474.2,396.0 479.5,396.0 485.6,396.0 492.3,396.1 499.3,396.1 506.6,396.1 513.8,396.1 520.7,396.1 527.1,396.1 532.8,396.1 537.6,396.1 541.2,396.1" fill="none" stroke="#62DDD3" stroke-width="3.6" stroke-linecap="square" stroke-linejoin="round"/>
<polyline points="412.1,395.8 412.4,395.7 412.8,395.7 413.2,395.6 413.7,395.5 414.3,395.4 414.8,395.3 415.4,395.2 416.0,395.1 416.6,394.9 417.3,394.8 417.8,394.7 418.4,394.6 418.9,394.5 419.5,394.4 420.0,394.4 420.5,394.3 421.0,394.2 421.5,394.2 422.0,394.1 422.6,394.0 423.2,393.9 423.8,393.7 424.4,393.5 425.1,393.2 425.8,392.9 426.6,392.5 427.3,392.1 428.1,391.7 428.9,391.2 429.8,390.7 430.6,390.2 431.5,389.7 432.4,389.2 433.3,388.6 434.3,388.1 435.2,387.6 436.2,387.1 437.2,386.6 438.2,386.1 439.3,385.6 440.4,385.1 441.5,384.5 442.6,384.0 443.7,383.4 444.8,382.9 445.9,382.3 446.9,381.7 448.0,381.1 449.1,380.4 450.1,379.7 451.2,379.0 452.2,378.2 453.3,377.5 454.4,376.7 455.4,375.9 456.4,375.2 457.5,374.5 458.5,373.8 459.4,373.2 460.4,372.7 461.3,372.2 462.2,371.8 463.1,371.4 464.0,371.1 464.8,370.8 465.7,370.5 466.5,370.3 467.4,370.1 468.2,369.9 469.0,369.8 469.9,369.7 470.7,369.6 471.6,369.6 472.4,369.6 473.3,369.7 474.1,369.8 475.0,370.0 475.8,370.1 476.7,370.3 477.5,370.6 478.4,370.8 479.2,371.1 480.1,371.4 480.9,371.7 481.8,372.0 482.6,372.4 483.4,372.7 484.3,373.1 485.1,373.6 486.0,374.0 486.8,374.5 487.7,374.9 488.6,375.4 489.4,375.9 490.2,376.3 491.1,376.8 491.9,377.3 492.7,377.8 493.4,378.2 494.1,378.7 494.8,379.2 495.6,379.7 496.3,380.3 497.1,380.8 498.0,381.3 499.0,381.8 500.1,382.4 501.3,382.9 502.6,383.5 504.1,384.0 505.7,384.6 507.3,385.3 509.1,385.9 510.9,386.5 512.7,387.1 514.5,387.7 516.4,388.3 518.2,388.8 520.0,389.3 521.7,389.7 523.3,390.1 524.9,390.4 526.4,390.8 527.9,391.0 529.4,391.3 530.9,391.5 532.4,391.7 534.1,392.0 535.9,392.1 537.8,392.3 539.9,392.5 542.2,392.7 544.7,392.9 547.5,393.0 550.4,393.2 553.4,393.3 556.6,393.5 559.9,393.6 563.2,393.7 566.6,393.8 570.0,393.9 573.4,394.0 576.7,394.1 580.0,394.2 583.2,394.3 586.4,394.4 589.6,394.5 592.8,394.5 596.0,394.6 599.2,394.7 602.5,394.7 605.8,394.8 609.2,394.9 612.7,394.9 616.3,395.0 620.0,395.0 624.0,395.0 628.3,395.1 633.0,395.1 637.8,395.1 642.7,395.2 647.5,395.2 652.3,395.2 656.7,395.2 660.9,395.3 664.5,395.3 667.6,395.3 670.1,395.3" fill="none" stroke="#FF2010" stroke-width="3.6" stroke-linecap="square" stroke-linejoin="round"/>
<polyline points="412.1,395.8 412.2,395.7 412.2,395.6 412.3,395.4 412.5,395.2 412.6,395.0 412.7,394.8 412.8,394.6 413.0,394.4 413.1,394.2 413.2,394.0 413.4,393.8 413.5,393.6 413.6,393.4 413.7,393.3 413.7,393.1 413.7,393.0 413.7,392.8 413.8,392.7 413.8,392.5 413.9,392.4 414.1,392.2 414.3,392.1 414.7,391.9 415.1,391.8 415.6,391.7 416.3,391.5 417.0,391.4 417.8,391.2 418.7,391.1 419.6,391.0 420.5,390.8 421.4,390.7 422.4,390.6 423.3,390.4 424.2,390.3 425.1,390.2 425.9,390.1 426.7,390.0 427.5,389.9 428.3,389.8 429.1,389.7 429.9,389.6 430.7,389.6 431.5,389.5 432.3,389.4 433.2,389.3 434.2,389.2 435.2,389.1 436.3,389.0 437.4,388.9 438.7,388.7 439.9,388.6 441.3,388.4 442.6,388.3 443.9,388.2 445.2,388.0 446.5,387.9 447.7,387.7 448.9,387.6 450.0,387.5 451.0,387.4 451.9,387.3 452.7,387.2 453.4,387.1 454.1,387.1 454.8,387.0 455.6,386.9 456.3,386.8 457.2,386.8 458.1,386.7 459.2,386.5 460.4,386.4 461.8,386.2 463.2,386.1 464.8,385.9 466.5,385.6 468.2,385.4 470.0,385.2 471.9,384.9 473.7,384.7 475.5,384.5 477.4,384.3 479.2,384.1 480.9,384.0 482.6,383.9 484.3,383.8 486.0,383.6 487.7,383.5 489.4,383.4 491.1,383.4 492.8,383.3 494.5,383.3 496.2,383.2 497.9,383.2 499.6,383.3 501.3,383.3 503.0,383.4 504.7,383.5 506.4,383.6 508.1,383.8 509.8,384.0 511.5,384.1 513.2,384.3 514.9,384.6 516.6,384.8 518.3,385.0 520.0,385.2 521.7,385.4 523.3,385.6 524.9,385.8 526.4,386.0 527.9,386.2 529.4,386.4 530.9,386.6 532.4,386.8 534.1,387.1 535.9,387.3 537.8,387.5 539.9,387.8 542.2,388.0 544.7,388.3 547.5,388.5 550.4,388.8 553.4,389.1 556.6,389.4 559.9,389.7 563.2,390.0 566.6,390.3 570.0,390.6 573.4,390.8 576.7,391.1 580.0,391.3 583.2,391.5 586.4,391.7 589.6,391.9 592.8,392.1 596.0,392.2 599.2,392.4 602.5,392.5 605.8,392.7 609.2,392.8 612.7,392.9 616.3,393.1 620.0,393.2 624.0,393.3 628.3,393.4 633.0,393.6 637.8,393.7 642.7,393.8 647.5,393.9 652.3,394.0 656.7,394.0 660.9,394.1 664.5,394.2 667.6,394.2 670.1,394.3" fill="none" stroke="#8A1CA0" stroke-width="3.6" stroke-linecap="square" stroke-linejoin="round"/>
<polyline points="412.1,395.8 412.3,395.7 412.5,395.6 412.8,395.5 413.2,395.4 413.5,395.2 413.9,395.1 414.3,394.9 414.7,394.7 415.0,394.5 415.4,394.4 415.7,394.2 416.0,394.0 416.3,393.8 416.5,393.7 416.7,393.6 416.9,393.4 417.1,393.3 417.3,393.1 417.5,393.0 417.7,392.8 417.9,392.5 418.1,392.2 418.3,391.9 418.5,391.5 418.7,391.0 418.9,390.5 419.2,389.8 419.4,389.2 419.6,388.5 419.8,387.7 420.1,387.0 420.3,386.2 420.5,385.5 420.7,384.7 420.9,384.0 421.1,383.4 421.3,382.8 421.5,382.2 421.6,381.7 421.8,381.1 422.0,380.6 422.1,380.1 422.3,379.6 422.5,379.0 422.6,378.5 422.8,377.9 422.9,377.3 423.1,376.7 423.3,376.1 423.4,375.5 423.6,374.8 423.8,374.2 423.9,373.6 424.1,372.9 424.3,372.2 424.4,371.5 424.6,370.7 424.8,369.9 424.9,369.0 425.1,368.0 425.3,367.0 425.4,365.9 425.6,364.8 425.8,363.7 425.9,362.5 426.1,361.3 426.3,360.0 426.4,358.6 426.6,357.1 426.8,355.5 427.0,353.8 427.2,352.0 427.4,350.0 427.6,347.7 427.9,345.3 428.1,342.8 428.3,340.1 428.6,337.4 428.8,334.7 429.1,332.0 429.3,329.4 429.5,326.9 429.8,324.5 430.0,322.3 430.2,320.2 430.4,318.2 430.6,316.3 430.8,314.4 431.1,312.5 431.3,310.8 431.5,309.1 431.7,307.5 431.8,305.9 432.0,304.5 432.2,303.2 432.4,302.0 432.6,300.9 432.7,299.8 432.9,298.9 433.1,298.0 433.2,297.3 433.4,296.6 433.5,296.0 433.7,295.5 433.8,295.1 434.0,294.8 434.1,294.7 434.3,294.6 434.5,294.7 434.6,294.9 434.8,295.2 435.0,295.7 435.2,296.2 435.4,296.8 435.5,297.6 435.7,298.3 435.9,299.2 436.1,300.1 436.3,301.0 436.5,302.0 436.7,303.0 436.9,304.0 437.2,305.1 437.4,306.3 437.6,307.5 437.9,308.8 438.1,310.1 438.3,311.6 438.6,313.1 438.8,314.6 439.0,316.3 439.2,318.0 439.4,319.9 439.6,322.0 439.8,324.2 439.9,326.6 440.1,329.0 440.3,331.5 440.4,334.0 440.6,336.4 440.8,338.7 440.9,340.8 441.1,342.8 441.3,344.6 441.5,346.2 441.7,347.6 441.9,348.9 442.1,350.0 442.3,351.1 442.5,352.1 442.7,353.1 442.8,354.0 443.0,354.8 443.2,355.7 443.4,356.6 443.6,357.5 443.8,358.4 443.9,359.2 444.1,360.0 444.2,360.7 444.3,361.4 444.4,362.1 444.6,362.8 444.7,363.5 444.9,364.3 445.1,365.1 445.3,366.0 445.6,367.0 445.9,368.1 446.2,369.4 446.6,370.7 447.0,372.1 447.4,373.5 447.8,375.0 448.3,376.4 448.7,377.8 449.2,379.2 449.6,380.4 450.1,381.6 450.5,382.6 450.9,383.5 451.4,384.3 451.9,385.0 452.3,385.6 452.8,386.2 453.3,386.7 453.8,387.2 454.3,387.6 454.7,388.1 455.2,388.5 455.7,388.9 456.2,389.3 456.7,389.7 457.1,390.1 457.6,390.4 458.1,390.7 458.5,391.0 459.0,391.3 459.5,391.5 460.0,391.8 460.5,392.0 461.0,392.2 461.5,392.4 462.0,392.6 462.5,392.8 463.0,392.9 463.5,393.1 463.9,393.2 464.4,393.3 464.9,393.4 465.4,393.5 466.0,393.6 466.6,393.7 467.3,393.8 468.1,393.9 469.0,394.0 469.9,394.1 470.7,394.2 471.4,394.3 472.2,394.4 473.0,394.6 473.9,394.7 475.0,394.8 476.4,394.9 478.0,395.0 479.9,395.0 482.2,395.1 485.0,395.2 488.5,395.3 492.7,395.3 497.5,395.4 502.8,395.4 508.4,395.4 514.1,395.5 519.7,395.5 525.1,395.5 530.2,395.5 534.6,395.6 538.4,395.6 541.2,395.6" fill="none" stroke="#3A991E" stroke-width="3.6" stroke-linecap="square" stroke-linejoin="round"/>
<polyline points="412.1,395.8 412.4,395.7 412.8,395.5 413.2,395.4 413.7,395.2 414.3,395.0 414.8,394.8 415.4,394.5 416.0,394.3 416.6,394.1 417.3,393.9 417.8,393.6 418.4,393.4 418.9,393.2 419.5,393.0 420.0,392.8 420.6,392.5 421.2,392.3 421.7,392.1 422.3,391.9 422.8,391.6 423.4,391.4 424.0,391.1 424.5,390.9 425.1,390.6 425.7,390.3 426.2,390.0 426.8,389.8 427.4,389.5 427.9,389.2 428.5,388.9 429.1,388.6 429.6,388.2 430.2,387.9 430.8,387.6 431.3,387.2 431.9,386.8 432.5,386.4 433.1,385.9 433.7,385.5 434.3,385.0 434.9,384.5 435.5,384.0 436.0,383.4 436.6,382.9 437.2,382.4 437.7,382.0 438.2,381.5 438.6,381.1 439.0,380.7 439.4,380.4 439.7,380.0 440.0,379.7 440.3,379.4 440.5,379.1 440.8,378.8 441.0,378.6 441.2,378.3 441.5,378.0 441.7,377.6 442.0,377.3 442.3,376.9 442.6,376.6 442.8,376.2 443.1,375.8 443.4,375.5 443.7,375.1 444.0,374.7 444.2,374.3 444.5,373.9 444.8,373.5 445.0,373.1 445.3,372.7 445.6,372.3 445.8,371.9 446.1,371.4 446.3,371.0 446.5,370.6 446.8,370.1 447.0,369.7 447.3,369.2 447.5,368.8 447.7,368.3 448.0,367.9 448.2,367.5 448.4,367.1 448.7,366.7 448.9,366.3 449.1,365.9 449.3,365.5 449.6,365.0 449.8,364.7 450.0,364.3 450.3,363.9 450.5,363.5 450.7,363.2 451.0,362.8 451.3,362.5 451.5,362.1 451.8,361.8 452.1,361.5 452.4,361.1 452.7,360.8 453.0,360.5 453.3,360.2 453.6,360.0 453.9,359.7 454.2,359.4 454.5,359.2 454.8,359.0 455.1,358.7 455.5,358.5 455.8,358.3 456.2,358.1 456.5,357.9 456.8,357.8 457.2,357.6 457.5,357.5 457.9,357.4 458.2,357.3 458.6,357.3 458.9,357.3 459.3,357.3 459.6,357.3 459.9,357.4 460.2,357.5 460.6,357.6 460.9,357.7 461.3,357.9 461.7,358.1 462.1,358.3 462.5,358.5 463.0,358.8 463.5,359.1 464.1,359.4 464.6,359.8 465.2,360.1 465.8,360.5 466.5,361.0 467.1,361.4 467.8,362.0 468.5,362.5 469.2,363.1 470.0,363.8 470.7,364.5 471.5,365.3 472.3,366.2 473.1,367.2 473.9,368.2 474.8,369.3 475.6,370.5 476.5,371.6 477.4,372.7 478.3,373.8 479.2,374.9 480.0,375.9 480.9,376.8 481.8,377.7 482.6,378.5 483.4,379.3 484.3,380.1 485.1,380.8 486.0,381.6 486.8,382.3 487.7,383.0 488.6,383.6 489.4,384.2 490.2,384.8 491.1,385.4 491.9,385.9 492.7,386.4 493.4,386.9 494.1,387.3 494.8,387.7 495.6,388.1 496.3,388.4 497.1,388.8 498.0,389.1 499.0,389.4 500.1,389.8 501.3,390.1 502.6,390.4 504.1,390.8 505.7,391.1 507.3,391.4 509.1,391.7 510.9,392.0 512.7,392.3 514.5,392.6 516.4,392.8 518.2,393.1 520.0,393.3 521.7,393.5 523.3,393.7 524.9,393.8 526.4,394.0 527.9,394.1 529.4,394.2 530.9,394.3 532.4,394.4 534.1,394.5 535.9,394.6 537.8,394.6 539.9,394.7 542.2,394.8 544.6,394.9 546.9,394.9 549.2,395.0 551.6,395.1 554.1,395.1 556.8,395.2 559.7,395.2 562.9,395.3 566.5,395.3 570.5,395.3 575.0,395.4 580.0,395.4 586.0,395.4 593.0,395.4 601.0,395.5 609.5,395.5 618.4,395.5 627.4,395.5 636.3,395.5 644.8,395.5 652.7,395.5 659.7,395.5 665.6,395.5 670.1,395.5" fill="none" stroke="#F0831F" stroke-width="3.6" stroke-linecap="square" stroke-linejoin="round"/>
</g>
<rect x="399.5" y="230.6" width="282.9" height="172.79999999999998" fill="none" stroke="#111" stroke-width="1.25"/>
<line x1="395.00" y1="395.80" x2="399.50" y2="395.80" stroke="#111" stroke-width="1.25"/>
<text x="389.20" y="401.10" font-size="14.8" text-anchor="end" font-weight="normal" font-style="normal">0</text>
<line x1="395.00" y1="355.18" x2="399.50" y2="355.18" stroke="#111" stroke-width="1.25"/>
<text x="389.20" y="360.48" font-size="14.8" text-anchor="end" font-weight="normal" font-style="normal">1</text>
<line x1="395.00" y1="314.56" x2="399.50" y2="314.56" stroke="#111" stroke-width="1.25"/>
<text x="389.20" y="319.86" font-size="14.8" text-anchor="end" font-weight="normal" font-style="normal">2</text>
<line x1="395.00" y1="273.94" x2="399.50" y2="273.94" stroke="#111" stroke-width="1.25"/>
<text x="389.20" y="279.24" font-size="14.8" text-anchor="end" font-weight="normal" font-style="normal">3</text>
<line x1="395.00" y1="233.32" x2="399.50" y2="233.32" stroke="#111" stroke-width="1.25"/>
<text x="389.20" y="238.62" font-size="14.8" text-anchor="end" font-weight="normal" font-style="normal">4</text>
<line x1="396.90" y1="387.68" x2="399.50" y2="387.68" stroke="#111" stroke-width="1.25"/>
<line x1="396.90" y1="379.55" x2="399.50" y2="379.55" stroke="#111" stroke-width="1.25"/>
<line x1="396.90" y1="371.43" x2="399.50" y2="371.43" stroke="#111" stroke-width="1.25"/>
<line x1="396.90" y1="363.30" x2="399.50" y2="363.30" stroke="#111" stroke-width="1.25"/>
<line x1="396.90" y1="347.06" x2="399.50" y2="347.06" stroke="#111" stroke-width="1.25"/>
<line x1="396.90" y1="338.93" x2="399.50" y2="338.93" stroke="#111" stroke-width="1.25"/>
<line x1="396.90" y1="330.81" x2="399.50" y2="330.81" stroke="#111" stroke-width="1.25"/>
<line x1="396.90" y1="322.68" x2="399.50" y2="322.68" stroke="#111" stroke-width="1.25"/>
<line x1="396.90" y1="306.44" x2="399.50" y2="306.44" stroke="#111" stroke-width="1.25"/>
<line x1="396.90" y1="298.31" x2="399.50" y2="298.31" stroke="#111" stroke-width="1.25"/>
<line x1="396.90" y1="290.19" x2="399.50" y2="290.19" stroke="#111" stroke-width="1.25"/>
<line x1="396.90" y1="282.06" x2="399.50" y2="282.06" stroke="#111" stroke-width="1.25"/>
<line x1="396.90" y1="265.82" x2="399.50" y2="265.82" stroke="#111" stroke-width="1.25"/>
<line x1="396.90" y1="257.69" x2="399.50" y2="257.69" stroke="#111" stroke-width="1.25"/>
<line x1="396.90" y1="249.57" x2="399.50" y2="249.57" stroke="#111" stroke-width="1.25"/>
<line x1="396.90" y1="241.44" x2="399.50" y2="241.44" stroke="#111" stroke-width="1.25"/>
<line x1="412.10" y1="403.40" x2="412.10" y2="408.40" stroke="#111" stroke-width="1.25"/>
<text x="412.10" y="424.40" font-size="14.8" text-anchor="middle" font-weight="normal" font-style="normal">0</text>
<line x1="498.10" y1="403.40" x2="498.10" y2="408.40" stroke="#111" stroke-width="1.25"/>
<text x="498.10" y="424.40" font-size="14.8" text-anchor="middle" font-weight="normal" font-style="normal">2</text>
<line x1="584.10" y1="403.40" x2="584.10" y2="408.40" stroke="#111" stroke-width="1.25"/>
<text x="584.10" y="424.40" font-size="14.8" text-anchor="middle" font-weight="normal" font-style="normal">4</text>
<line x1="670.10" y1="403.40" x2="670.10" y2="408.40" stroke="#111" stroke-width="1.25"/>
<text x="670.10" y="424.40" font-size="14.8" text-anchor="middle" font-weight="normal" font-style="normal">6</text>
<line x1="433.60" y1="403.40" x2="433.60" y2="406.00" stroke="#111" stroke-width="1.25"/>
<line x1="455.10" y1="403.40" x2="455.10" y2="406.00" stroke="#111" stroke-width="1.25"/>
<line x1="476.60" y1="403.40" x2="476.60" y2="406.00" stroke="#111" stroke-width="1.25"/>
<line x1="519.60" y1="403.40" x2="519.60" y2="406.00" stroke="#111" stroke-width="1.25"/>
<line x1="541.10" y1="403.40" x2="541.10" y2="406.00" stroke="#111" stroke-width="1.25"/>
<line x1="562.60" y1="403.40" x2="562.60" y2="406.00" stroke="#111" stroke-width="1.25"/>
<line x1="605.60" y1="403.40" x2="605.60" y2="406.00" stroke="#111" stroke-width="1.25"/>
<line x1="627.10" y1="403.40" x2="627.10" y2="406.00" stroke="#111" stroke-width="1.25"/>
<line x1="648.60" y1="403.40" x2="648.60" y2="406.00" stroke="#111" stroke-width="1.25"/>
<text x="358.80" y="234.30" font-size="17.5" text-anchor="start" font-weight="bold" font-style="normal">C</text>
<text transform="translate(373.1,349.5) rotate(-90)" font-size="13.6" textLength="67" lengthAdjust="spacingAndGlyphs">Curvature</text>
<text x="461.80" y="443.20" font-size="13.6" text-anchor="start" font-weight="normal" font-style="normal" textLength="158" lengthAdjust="spacingAndGlyphs">Time since P arrival (s)</text>
<rect x="578.5" y="236.4" width="97.8" height="87.1" rx="2.5" fill="#fff" fill-opacity="0.8" stroke="#d6d6d6" stroke-width="1"/>
<rect x="589.4" y="241.1" width="10.3" height="9.6" fill="#62DDD3" stroke="#000" stroke-width="1.1"/>
<text x="615.60" y="249.90" font-size="11.2" text-anchor="start" font-weight="normal" font-style="normal" textLength="56" lengthAdjust="spacingAndGlyphs" style="stroke-width:0.08px">M 4.0–4.5</text>
<rect x="589.4" y="257.6" width="10.3" height="9.6" fill="#3A991E" stroke="#000" stroke-width="1.1"/>
<text x="615.60" y="266.40" font-size="11.2" text-anchor="start" font-weight="normal" font-style="normal" textLength="56" lengthAdjust="spacingAndGlyphs" style="stroke-width:0.08px">M 5.0–5.5</text>
<rect x="589.4" y="274.1" width="10.3" height="9.6" fill="#F0831F" stroke="#000" stroke-width="1.1"/>
<text x="615.60" y="282.90" font-size="11.2" text-anchor="start" font-weight="normal" font-style="normal" textLength="56" lengthAdjust="spacingAndGlyphs" style="stroke-width:0.08px">M 6.0–6.5</text>
<rect x="589.4" y="290.6" width="10.3" height="9.6" fill="#FF2010" stroke="#000" stroke-width="1.1"/>
<text x="615.60" y="299.40" font-size="11.2" text-anchor="start" font-weight="normal" font-style="normal" textLength="56" lengthAdjust="spacingAndGlyphs" style="stroke-width:0.08px">M 7.0–7.5</text>
<rect x="589.4" y="307.1" width="10.3" height="9.6" fill="#8A1CA0" stroke="#000" stroke-width="1.1"/>
<text x="615.60" y="315.90" font-size="11.2" text-anchor="start" font-weight="normal" font-style="normal" textLength="56" lengthAdjust="spacingAndGlyphs" style="stroke-width:0.08px">M 8.0–8.5</text>
</svg></body></html>
